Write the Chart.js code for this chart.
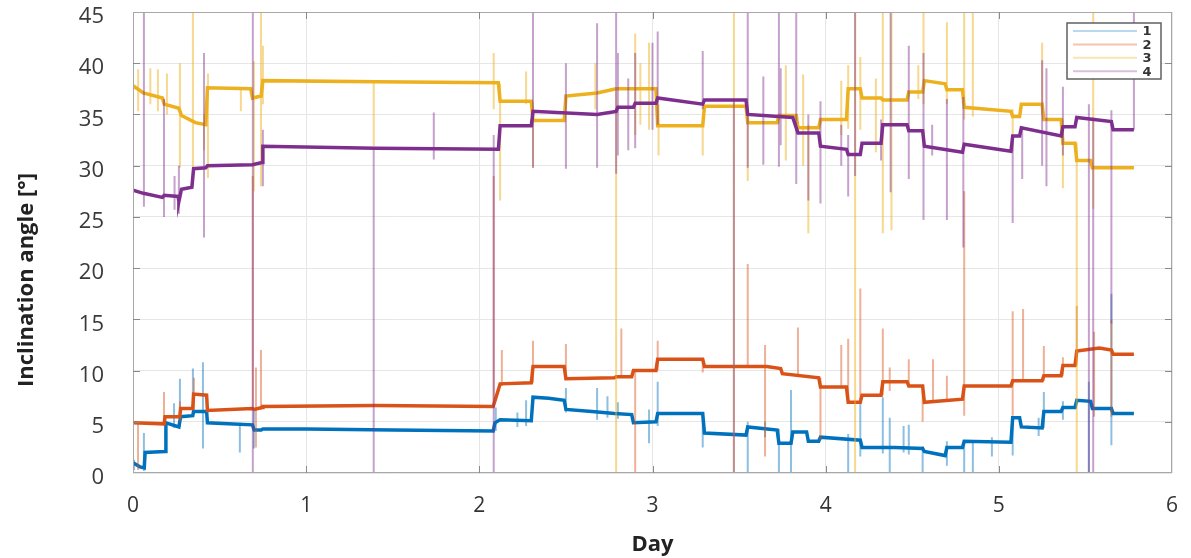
<!DOCTYPE html>
<html>
<head>
<meta charset="utf-8">
<script src="https://cdn.jsdelivr.net/npm/chart.js@4.4.1/dist/chart.umd.min.js"></script>
<style>
body{margin:0;background:#fff;}
#wrap{width:1191px;height:558px;}
</style>
</head>
<body>
<div id="wrap"><canvas id="tiltChart" width="1191" height="558"></canvas></div>
<script>
// sensor levels: day -> inclination angle
const days1 = [0,0.04,0.065,0.07,0.185,0.19,0.265,0.275,0.345,0.35,0.425,0.43,0.55,0.69,0.70,0.74,0.75,1.0,1.5,2.08,2.09,2.12,2.30,2.31,2.40,2.49,2.50,2.65,2.78,2.88,2.89,3.02,3.03,3.29,3.30,3.54,3.55,3.72,3.73,3.80,3.81,3.89,3.90,3.96,3.97,4.20,4.21,4.40,4.56,4.57,4.69,4.70,4.79,4.80,5.07,5.08,5.12,5.13,5.25,5.26,5.36,5.37,5.44,5.45,5.53,5.54,5.65,5.66,5.78];
const angle1 = [1.0,0.6,0.5,2.0,2.1,4.9,4.5,5.5,5.6,6.0,6.0,4.9,4.8,4.7,4.2,4.2,4.3,4.3,4.2,4.1,4.9,5.2,5.1,7.4,7.3,7.1,6.2,6.0,5.8,5.7,4.9,5.0,5.8,5.8,3.9,3.7,4.5,4.2,2.9,2.9,4.0,4.0,3.1,3.1,3.5,3.2,2.5,2.5,2.4,2.1,1.7,2.5,2.5,3.1,3.0,5.4,5.4,4.5,4.4,6.0,6.0,6.4,6.4,7.1,7.0,6.3,6.3,5.8,5.8];

const days2 = [0,0.18,0.185,0.27,0.275,0.345,0.35,0.425,0.43,0.69,0.70,0.745,0.75,1.40,2.08,2.12,2.30,2.31,2.49,2.50,2.78,2.79,2.88,2.89,3.02,3.03,3.29,3.30,3.66,3.74,3.75,3.96,3.97,4.12,4.13,4.20,4.21,4.32,4.33,4.47,4.48,4.56,4.57,4.79,4.80,5.07,5.08,5.25,5.26,5.36,5.37,5.44,5.45,5.58,5.65,5.66,5.78];
const angle2 = [4.9,4.8,5.5,5.5,6.3,6.3,7.7,7.6,6.1,6.3,6.2,6.4,6.5,6.6,6.5,8.7,8.8,10.4,10.4,9.2,9.3,9.4,9.4,10.0,10.0,11.1,11.1,10.4,10.4,10.2,9.7,9.3,8.4,8.4,6.9,6.9,7.6,7.6,8.9,8.9,8.5,8.5,6.9,7.2,8.5,8.5,9.0,9.0,9.5,9.5,10.5,10.5,11.9,12.2,12.0,11.6,11.6];

const days3 = [0,0.06,0.17,0.18,0.265,0.28,0.36,0.42,0.43,0.68,0.69,0.74,0.75,1.40,2.11,2.12,2.30,2.31,2.49,2.50,2.68,2.79,3.02,3.03,3.29,3.30,3.54,3.55,3.72,3.73,3.83,3.84,3.96,3.97,4.12,4.13,4.20,4.21,4.32,4.33,4.47,4.48,4.56,4.57,4.69,4.70,4.79,4.80,5.07,5.08,5.12,5.13,5.25,5.26,5.36,5.37,5.44,5.45,5.53,5.54,5.78];
const angle3 = [37.8,37.1,36.6,36.0,35.6,34.9,34.2,34.0,37.6,37.5,36.6,36.8,38.3,38.2,38.1,36.3,36.3,34.4,34.4,36.8,37.1,37.5,37.5,33.9,33.9,35.8,35.8,34.2,34.2,34.9,34.9,33.7,33.7,34.5,34.5,37.5,37.5,36.6,36.6,36.4,36.4,37.2,37.2,38.3,38.0,37.4,37.4,35.7,35.3,34.8,34.8,36.0,36.0,34.5,34.5,32.2,32.2,30.5,30.5,29.8,29.8];

const days4 = [0,0.06,0.17,0.18,0.26,0.265,0.28,0.34,0.35,0.42,0.43,0.69,0.745,0.75,1.40,2.11,2.12,2.30,2.31,2.68,2.79,2.80,2.89,2.90,3.02,3.03,3.29,3.30,3.54,3.55,3.81,3.84,3.96,3.97,4.12,4.13,4.20,4.21,4.32,4.33,4.47,4.48,4.56,4.57,4.79,4.80,5.07,5.08,5.12,5.13,5.36,5.37,5.44,5.45,5.65,5.66,5.78];
const angle4 = [27.6,27.3,26.9,27.1,27.0,26.5,27.7,27.9,29.7,29.8,30.0,30.1,30.3,31.9,31.7,31.6,33.9,33.9,35.3,35.0,35.3,35.7,35.7,36.1,36.1,36.6,36.0,36.4,36.4,35.0,34.7,33.2,33.2,31.9,31.6,31.1,31.1,32.2,32.2,34.0,34.0,33.4,33.4,31.9,31.3,32.1,31.4,32.9,32.9,33.7,32.9,33.8,33.8,34.7,34.3,33.5,33.5];

// single-sample outliers: [day, low, high]
const spikes1 = [[0.006,0.3,1.3],[0.063,0.2,3.9],[0.237,4.4,6.8],[0.271,4.5,9.2],[0.346,5.5,10.2],[0.404,2.4,10.8],[0.617,2.0,4.9],[0.698,2.4,6.3],[2.095,4.1,6.4],[2.22,4.5,5.9],[2.27,4.6,7.1],[2.50,5.9,8.3],[2.68,5.2,8.3],[2.74,5.4,7.5],[2.80,5.3,6.9],[2.98,2.9,6.2],[3.03,4.6,8.9],[3.29,2.5,5.8],[3.55,0,5.0],[3.65,3.5,5.0],[3.73,0,4.3],[3.80,0,8.1],[4.13,0,3.8],[4.20,1.6,7.1],[4.33,1.9,7.4],[4.37,0,5.4],[4.45,2.0,4.6],[4.48,1.8,4.7],[4.56,0,2.6],[4.70,0.7,3.1],[4.80,0,3.1],[4.85,0,3.1],[4.96,1.6,3.5],[5.08,1.7,5.4],[5.23,3.6,5.4],[5.26,4.4,7.9],[5.37,5.2,7.0],[5.52,0,8.9],[5.65,2.7,17.5]];
const spikes2 = [[0.029,0.3,5.0],[0.179,4.6,7.9],[0.271,5.0,7.0],[0.352,6.2,9.3],[0.692,6.3,29.0],[0.71,2.5,10.3],[0.739,6.2,12.0],[2.083,6.5,29.0],[2.13,8.5,12.0],[2.31,8.8,12.9],[2.50,9.2,12.6],[2.82,9.3,14.1],[2.90,0,10.0],[3.03,10.0,12.9],[3.29,9.8,11.1],[3.55,10.4,20.4],[3.65,1.6,12.5],[3.84,9.5,14.2],[3.97,3.2,9.3],[4.09,8.4,12.5],[4.13,6.9,13.1],[4.20,6.9,18.0],[4.33,7.6,14.1],[4.37,8.0,10.3],[4.48,8.5,11.1],[4.56,5.0,8.5],[4.62,6.9,11.1],[4.70,7.0,9.5],[4.80,5.6,27.5],[5.08,5.6,15.8],[5.14,9.0,16.0],[5.26,9.0,12.4],[5.37,9.5,11.3],[5.45,10.5,16.3],[5.55,5.5,13.8],[5.65,5.5,14.9]];
const spikes3 = [[0.03,35.3,39.4],[0.10,36.0,39.5],[0.144,35.3,39.4],[0.196,35.0,39.0],[0.271,29.8,40.0],[0.346,28.0,45],[0.41,31.5,35.0],[0.433,28.8,39.0],[0.623,35.3,37.5],[0.698,27.5,40.2],[0.739,28.0,45],[0.75,36.0,41.7],[1.39,31.9,38.3],[2.083,35.5,41.0],[2.12,26.6,38.0],[2.27,36.0,39.2],[2.31,29.8,36.3],[2.67,35.5,40.0],[2.79,0,37.5],[2.90,33.0,42.9],[2.93,34.0,40.0],[2.98,33.5,42.0],[3.035,31.0,36.0],[3.29,31.0,34.0],[3.47,0,45],[3.55,28.5,35.8],[3.77,30.5,39.8],[3.87,30.0,38.9],[3.90,23.4,34.0],[4.09,33.0,38.3],[4.13,33.6,39.8],[4.17,0,45],[4.20,33.5,40.6],[4.29,31.3,38.5],[4.33,23.4,45],[4.38,23.7,45],[4.535,36.5,39.8],[4.565,36.0,45],[4.70,36.0,44.0],[4.80,34.5,45],[4.85,34.8,45],[5.08,31.4,35.5],[5.25,35.1,42.0],[5.37,27.8,34.5],[5.45,0,32.2],[5.545,25.8,45]];
const spikes4 = [[0.0,0,45],[0.063,26.0,45],[0.179,25.0,36.5],[0.24,25.7,29.0],[0.265,25.3,30.0],[0.41,23.0,41.0],[0.692,0,45],[0.75,28.0,33.5],[1.39,0,31.8],[1.737,30.6,35.2],[2.083,0,33.0],[2.31,29.8,45],[2.50,29.7,40.0],[2.68,29.8,43.9],[2.79,29.2,45],[2.80,31.0,41.0],[2.86,31.5,38.5],[2.90,31.7,41.0],[3.00,33.5,42.0],[3.03,34.0,43.1],[3.29,35.5,41.2],[3.47,0,36.4],[3.55,29.8,45],[3.64,30.1,38.7],[3.73,29.9,45],[3.74,32.0,39.5],[3.83,28.2,45],[3.90,26.6,35.0],[3.97,26.3,36.3],[4.09,30.0,34.0],[4.13,27.0,33.0],[4.17,29.0,45],[4.32,30.5,34.5],[4.375,27.4,45],[4.48,28.7,41.7],[4.565,24.7,41.0],[4.615,31.0,34.0],[4.70,24.7,36.5],[4.795,22.0,36.7],[5.08,24.4,32.5],[5.135,28.7,33.8],[5.25,30.0,40.3],[5.275,28.0,39.5],[5.37,31.0,37.7],[5.52,0,36.0],[5.545,0,34.7],[5.65,14.6,35.4],[5.78,33.5,45]];

const labels = ["1","2","3","4"];
const colors = ["#0072BD","#D95319","#EDB120","#7E2F8E"];
const spikeColors = ["rgba(0,114,189,0.45)","rgba(217,83,25,0.45)","rgba(237,177,32,0.5)","rgba(126,47,142,0.45)"];
const legendColors = ["#b8d9f0","#f4c4b0","#f9e4b4","#d8bfe0"];

function toPoints(days, vals){
return days.map((d,i)=>({x:d,y:vals[i]}));
}

function toSpikes(list){
const pts = [];
list.forEach(s=>{
pts.push({x:s[0],y:s[1]});
pts.push({x:s[0],y:s[2]});
pts.push({x:s[0],y:null});
});
return pts;
}

const mains = [toPoints(days1,angle1),toPoints(days2,angle2),toPoints(days3,angle3),toPoints(days4,angle4)];
const spikes = [toSpikes(spikes1),toSpikes(spikes2),toSpikes(spikes3),toSpikes(spikes4)];

const datasets = [];
for(let i=0;i<4;i++){
datasets.push({
label:labels[i],
data:mains[i],
borderColor:colors[i],
borderWidth:3.5,
pointRadius:0,
tension:0,
order:(3-i)*2
});
datasets.push({
label:labels[i]+" spikes",
data:spikes[i],
borderColor:spikeColors[i],
borderWidth:2,
pointRadius:0,
tension:0,
spanGaps:false,
order:(3-i)*2+1
});
}

/* frame, inner ticks, y title, legend box */
const decorations = {
id:"decorations",
afterDatasetsDraw(chart){
const ctx = chart.ctx;
const a = chart.chartArea;
const xs = chart.scales.x, ys = chart.scales.y;
ctx.save();
ctx.strokeStyle = "#a8a8a8";
ctx.lineWidth = 1;
ctx.strokeRect(a.left+0.5,a.top+0.5,a.right-a.left-1,a.bottom-a.top-1);
ctx.strokeStyle = "#8a8a8a";
ctx.beginPath();
for(let d=1; d<6; d++){
const px = Math.round(xs.getPixelForValue(d))+0.5;
ctx.moveTo(px,a.bottom); ctx.lineTo(px,a.bottom-7);
ctx.moveTo(px,a.top); ctx.lineTo(px,a.top+7);
}
for(let v=5; v<45; v+=5){
const py = Math.round(ys.getPixelForValue(v))+0.5;
ctx.moveTo(a.left,py); ctx.lineTo(a.left+7,py);
ctx.moveTo(a.right,py); ctx.lineTo(a.right-7,py);
}
ctx.stroke();
ctx.restore();
},
afterDraw(chart){
const ctx = chart.ctx;
const a = chart.chartArea;
ctx.save();
// y title
ctx.translate(33, 280);
ctx.rotate(-Math.PI/2);
ctx.fillStyle = "#222";
ctx.font = "bold 22px 'Open Sans', sans-serif";
ctx.textAlign = "center";
ctx.textBaseline = "alphabetic";
ctx.fillText("Inclination angle [°]",0,0);
ctx.restore();

// legend
const x = a.right-105, y = a.top+11, w = 94, h = 56;
ctx.save();
ctx.fillStyle = "#fff";
ctx.fillRect(x,y,w,h);
ctx.strokeStyle = "#606060";
ctx.lineWidth = 1.5;
ctx.strokeRect(x,y,w,h);
ctx.font = "bold 13px 'DejaVu Sans', sans-serif";
ctx.textAlign = "center";
ctx.textBaseline = "middle";
labels.forEach((lab,i)=>{
const ly = y+8+i*13.4;
ctx.strokeStyle = legendColors[i];
ctx.lineWidth = 2;
ctx.beginPath();
ctx.moveTo(x+6,ly); ctx.lineTo(x+70,ly);
ctx.stroke();
ctx.fillStyle = "#333";
ctx.fillText(lab,x+80,ly+1);
});
ctx.restore();
}
};

new Chart(document.getElementById("tiltChart"),{
type:"line",
data:{datasets:datasets},
plugins:[decorations],
options:{
responsive:false,
animation:false,
devicePixelRatio:1,
layout:{padding:{top:12,right:19,left:0,bottom:0}},
plugins:{legend:{display:false},tooltip:{enabled:false}},
scales:{
x:{
type:"linear",
min:0,max:6,
ticks:{stepSize:1,padding:20,color:"#333",font:{size:21,family:"'Open Sans',sans-serif"}},
grid:{color:"#e6e6e6",drawTicks:false},
border:{display:false},
title:{display:true,text:"Day",color:"#222",font:{size:22,weight:"bold",family:"'Open Sans',sans-serif"},padding:{top:0,bottom:0}},
afterFit(scale){scale.height = 85; scale.paddingLeft = 0; scale.paddingRight = 0;}
},
y:{
min:0,max:45,
ticks:{stepSize:5,padding:29,labelOffset:5,color:"#3a3a3a",font:{size:22,family:"'Open Sans',sans-serif"}},
grid:{color:"#e6e6e6",drawTicks:false},
border:{display:false},
afterFit(scale){scale.width = 133; scale.paddingTop = 0; scale.paddingBottom = 0;}
}
}
}
});
</script>
</body>
</html>
